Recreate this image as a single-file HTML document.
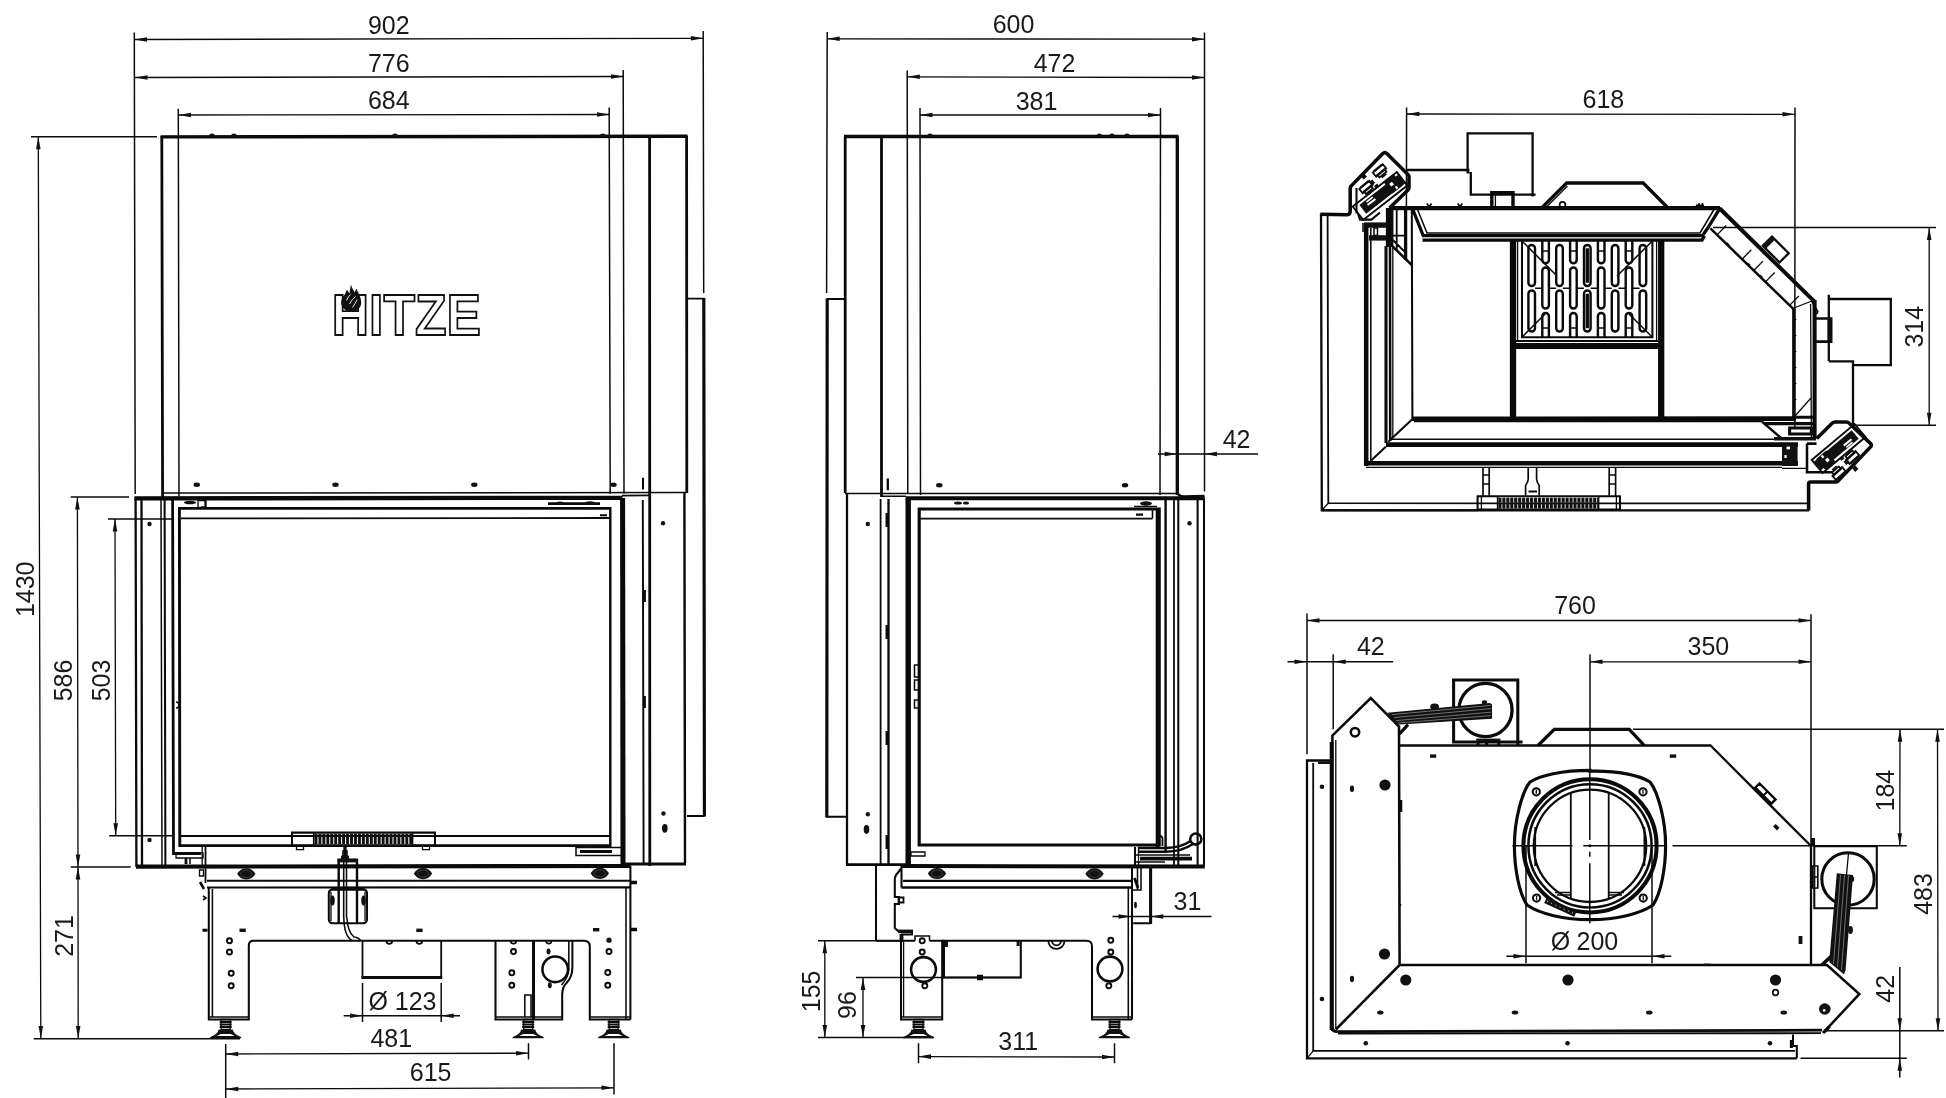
<!DOCTYPE html>
<html lang="en"><head><meta charset="utf-8"><title>HITZE technical drawing</title>
<style>html,body{margin:0;padding:0;background:#fff}body{width:1946px;height:1098px;overflow:hidden}svg{display:block;will-change:transform}text{font-family:"Liberation Sans",sans-serif;fill:#1a1a1a}</style></head><body>
<svg width="1946" height="1098" viewBox="0 0 1946 1098">
<rect width="1946" height="1098" fill="#fff"/>
<g fill="none" stroke="#0a0a0a" stroke-linecap="butt" stroke-linejoin="miter">
<path stroke-width="1.3" d="M134.50 39.50L703.40 38.30M135.00 77.50L623.50 76.50M178.50 115.00L609.50 114.50M38.30 136.80L40.80 1038.50M77.40 497.00L78.00 867.00M78.00 867.00L78.20 1038.50M115.00 519.00L115.70 835.80M225.70 1054.00L528.50 1053.20M225.70 1089.00L614.00 1087.80M205.00 500.00L205.00 507.00L201.00 507.00M198.00 500.50L206.00 500.50L206.00 507.50L198.00 507.50ZM176.00 853.00L203.00 853.00L203.00 858.00L176.00 858.00ZM296.50 845.80L303.50 845.80L303.50 849.60L296.50 849.60ZM422.50 845.80L429.50 845.80L429.50 849.60L422.50 849.60ZM202.20 847.00L202.20 866.00M199.50 870.00L203.50 870.00L203.50 876.00L199.50 876.00ZM331 892V921M365 892V921M221.20 1019.50L230.20 1019.50L230.20 1029.50L221.20 1029.50ZM523.70 1019.50L532.70 1019.50L532.70 1029.50L523.70 1029.50ZM609.20 1019.50L618.20 1019.50L618.20 1029.50L609.20 1029.50ZM827.20 38.80L1204.50 39.20M907.30 76.80L1204.50 77.50M920.00 115.00L1160.50 115.00M824.80 940.80L824.80 1037.50M863.00 977.50L863.00 1037.50M918.50 1056.60L1114.50 1057.00M911.00 852.00L925.00 852.00L925.00 856.00L911.00 856.00ZM1138.50 847.00L1138.50 866.00M903.60 942.00L903.60 1017.00M914.00 1019.50L923.00 1019.50L923.00 1029.50L914.00 1029.50ZM1110.00 1019.50L1119.00 1019.50L1119.00 1029.50L1110.00 1029.50ZM1406.80 114.00L1795.00 114.30M1929.20 227.50L1929.20 425.30M1321.80 510.30L1328.30 503.20M1392.80 208.00L1392.80 438.00M1495.40 194.00L1495.40 207.00M1546.50 207.00L1567.50 186.00M1684.00 207.00L1700.00 206.40M1810.60 304.00L1811.40 437.00M1717.07 234.88L1726.27 225.48M1742.09 259.18L1751.29 249.78M1753.77 270.52L1762.97 261.12M1765.44 281.86L1774.64 272.46M1789.63 305.35L1798.83 295.95M1794.00 308.00L1813.00 300.50M1795.00 416.00L1811.00 398.00M1828.20 320.00L1828.20 340.00M1517.60 241.00L1517.60 342.00M1656.60 241.00L1656.60 342.00M1414.00 421.60L1762.00 421.60M1366.00 467.40L1782.00 467.40M1782.00 468.40L1807.00 468.40M1483.00 475.00L1489.20 475.00M1483.00 484.00L1489.20 484.00M1609.20 475.00L1615.40 475.00M1609.20 484.00L1615.40 484.00M1481.40 497.00L1481.40 509.00M1616.40 497.00L1616.40 509.00M1307.00 620.50L1811.00 620.50M1590.00 661.80L1811.00 661.80M1900.00 729.30L1899.80 845.80M1937.50 729.30L1938.00 1030.80M1307.00 1058.30L1313.20 1050.80M1335.80 740.00L1335.80 1029.00M1399.60 905.00L1401.40 905.00M1536.30 789.80L1536.30 793.80M1643.00 789.80L1643.00 793.80M1536.60 896.00L1536.60 900.00M1643.20 896.00L1643.20 900.00M1557.00 895.00L1570.80 895.00M1608.70 895.00L1622.00 895.00M1812.60 877.00L1817.80 877.00M1848.50 853.00L1846.50 875.00"/>
<path stroke-width="1.49" d="M134.30 32.50L135.20 494.00M703.20 31.00L703.70 293.00M623.20 70.00L624.00 494.00M178.30 108.80L179.00 496.50M609.20 107.50L610.20 494.00M31.00 136.80L157.00 136.80M33.70 1038.70L240.00 1038.70M70.70 497.00L129.00 497.00M70.70 867.00L130.70 867.00M108.00 519.00L172.50 519.00M109.20 835.80L172.50 835.80M225.70 1044.00L225.70 1098.00M528.50 1043.20L528.50 1059.50M614.00 1043.20L614.00 1094.50M362.50 983.00L362.50 1022.00M441.20 983.00L441.20 1022.00M343.70 1015.70L460.00 1015.70M162.50 493.00L686.50 492.60M161.00 500.00L162.00 866.00M827.20 32.00L826.60 293.00M1204.50 32.50L1204.50 491.50M907.20 70.50L907.80 494.00M920.00 108.00L920.50 495.00M1160.50 108.00L1160.00 495.00M1158.00 454.00L1258.00 454.00M1112.50 916.50L1211.50 916.50M818.00 940.80L901.00 940.80M818.00 1037.50L933.50 1037.50M856.00 977.50L1020.80 977.50M918.50 1043.20L918.50 1063.20M1114.50 1043.20L1114.50 1063.20M845.00 493.50L1176.00 493.50M1406.60 107.50L1406.40 208.00M1795.00 107.50L1794.80 427.00M1713.00 227.50L1936.00 227.50M1852.00 425.30L1936.00 425.30M1307.00 613.50L1307.00 754.30M1811.00 614.30L1811.00 846.00M1590.00 654.30L1590.00 770.00M1333.20 654.30L1333.20 729.30M1287.50 661.80L1393.20 661.80M1633.00 729.30L1944.00 729.30M1672.50 845.80L1906.80 845.80M1826.80 1030.80L1944.00 1030.80M1800.50 1058.30L1906.80 1058.30M1899.80 967.00L1899.80 1077.50M1526.00 846.00L1526.00 963.30M1652.00 846.00L1652.00 963.30M1506.30 956.30L1671.30 956.30M1512.50 845.80L1572.50 845.80M1583.30 845.80L1665.80 845.80M1589.80 770.00L1589.80 840.00M1589.80 851.70L1589.80 856.70M1589.80 863.30L1589.80 923.30"/>
<path stroke-width="1.55" d="M176 702A3 3 0 0 1 176 708M190.00 858.00L190.00 864.00M576.00 847.50L622.00 847.50L622.00 855.50L576.00 855.50ZM313.70 832.60L313.70 845.80M412.60 832.60L412.60 845.80M203 896l3 2l-3 2M208.80 1017.00L248.80 1017.00M212.40 889.00L212.40 1017.00M343.00 851.00L347.00 851.00L347.00 856.00L343.00 856.00ZM343.70 862.00L343.70 917.00M346.50 862.00L346.50 917.00M343.8 917Q344 936 352 940.5M346.8 917Q347.5 932 354 937Q358 937 361 940.8M495.50 1017.00L562.20 1017.00M568.8 941V970Q568 978 561.5 985M524.80 995.00L531.00 995.00L531.00 1017.00L524.80 1017.00ZM589.80 1017.00L630.40 1017.00M626.00 887.50L626.00 1019.50M881.00 496.20L906.00 496.20M1152.50 518.50L1152.50 508.00M914.50 665.00L919.00 665.00L919.00 677.00L914.50 677.00ZM914.50 680.00L919.00 680.00L919.00 690.00L914.50 690.00ZM914.50 700.00L919.00 700.00L919.00 708.00L914.50 708.00ZM1134.00 506.50L1157.00 506.50M1135.00 855.00L1190.00 855.00M1135.00 862.00L1165.00 862.00M1128.30 888.00L1128.30 1019.50M1137.50 866.00L1137.50 890.00M1133.00 890.00L1141.00 890.00L1141.00 868.00M901.00 1017.00L942.20 1017.00M915.00 940.80L915.00 936.00L929.50 936.00L929.50 940.80M1092.00 1017.00L1132.00 1017.00M1370.80 228.00L1370.80 461.00M1363.00 223.00L1363.00 232.00M1374.00 228.00L1377.50 228.00L1377.50 235.50L1374.00 235.50ZM1417.5 209.5L1427 233H1700L1714 209.5M1818.00 312.50L1814.80 314.50M1522.00 241.00L1557.00 276.00M1652.40 241.00L1617.00 276.00M1522.00 337.20L1545.00 314.00M1652.40 337.20L1629.00 314.00M1542.30 251.00L1548.90 251.00M1542.30 328.00L1548.90 328.00M1570.10 251.00L1576.70 251.00M1570.10 328.00L1576.70 328.00M1597.90 251.00L1604.50 251.00M1597.90 328.00L1604.50 328.00M1625.70 251.00L1632.30 251.00M1625.70 328.00L1632.30 328.00M1535.00 288.20L1542.30 288.20M1548.90 288.20L1556.20 288.20M1562.80 288.20L1570.10 288.20M1576.70 288.20L1584.00 288.20M1590.60 288.20L1597.90 288.20M1604.50 288.20L1611.80 288.20M1618.40 288.20L1625.70 288.20M1632.30 288.20L1639.60 288.20M1392.00 439.20L1776.00 439.20M1497.60 496.20L1497.60 509.60M1598.60 496.20L1598.60 509.60M1555.00 892.50L1570.80 892.50M1608.70 892.50L1624.00 892.50"/>
<path stroke-width="1.68" d="M386.4 941A2.9 2.9 0 1 0 392.2 941M416.4 941A2.9 2.9 0 1 0 422.2 941M510.8 941A2.7 2.7 0 0 0 516.2 941M546 941A2.7 2.7 0 0 0 551.4 941M1363.86 191.39L1370.75 185.61L1372.94 188.21L1366.05 193.99ZM1377.36 174.89L1384.25 169.11L1386.44 171.71L1379.55 177.49ZM1426.8 203.4L1429.2 206.6L1431.6000000000001 203.4M1457.6 203.4L1460 206.6L1462.4 203.4M1696 205.4h8M1699 203v3.6M1702.4 203v3.6M1845.62 456.45L1852.31 450.43L1854.58 452.95L1847.89 458.97ZM1832.12 472.45L1838.81 466.43L1841.08 468.95L1834.39 474.97ZM1483.00 467.50L1483.00 496.50M1489.20 467.50L1489.20 496.50M1609.20 467.50L1609.20 496.50M1615.60 467.50L1615.60 496.50M1528.2 467.5V479Q1528.2 482 1525.6 485.5V496.5M1536.6 467.5V479Q1536.6 482 1539.2 485.5V496.5M1812.60 866.00L1817.80 866.00L1817.80 888.00L1812.60 888.00Z"/>
<path stroke-width="1.8" d="M622.00 495.60L650.00 495.40M181.00 518.40L610.00 518.00M181.00 836.00L610.00 836.00M205.50 847.00L205.50 883.00M362.50 940.80L362.50 977.50L441.20 977.50L441.20 940.80M219.70 1022.00L231.70 1022.00M219.70 1024.50L231.70 1024.50M219.70 1027.00L231.70 1027.00M522.20 1022.00L534.20 1022.00M522.20 1024.50L534.20 1024.50M522.20 1027.00L534.20 1027.00M607.70 1022.00L619.70 1022.00M607.70 1024.50L619.70 1024.50M607.70 1027.00L619.70 1027.00M880.60 499.00L880.60 864.50M920.00 518.60L1152.50 518.60M1174.00 499.00L1174.00 866.00M1158.5 846V838Q1160.5 834 1162.5 838V846M898.50 897.50L903.50 897.50L903.50 902.50L898.50 902.50ZM1048.3 940.8A8 8 0 0 0 1064.5 940.8M1052 940.8A4.5 4.5 0 0 0 1061 940.8M912.50 1022.00L924.50 1022.00M912.50 1024.50L924.50 1024.50M912.50 1027.00L924.50 1027.00M1108.50 1022.00L1120.50 1022.00M1108.50 1024.50L1120.50 1024.50M1108.50 1027.00L1120.50 1027.00M1327.60 216.00L1328.30 503.20L1807.00 503.40M1359.29 189.11L1369.24 180.75L1372.71 184.89L1362.76 193.25ZM1372.79 172.61L1382.74 164.25L1386.21 168.39L1376.26 176.75ZM1396.70 210.00L1396.70 250.00M1392.80 240.00L1405.00 252.00M1390.00 235.60L1406.00 235.60M1515.00 341.00L1659.00 341.00M1845.86 459.84L1855.52 451.14L1859.14 455.16L1849.48 463.86ZM1832.36 475.84L1842.02 467.14L1845.64 471.16L1835.98 479.86ZM1620.00 503.40L1807.00 503.40M1313.20 763.00L1313.20 1050.80L1795.00 1050.80M1338.00 1033.60L1821.00 1033.20M1570.80 793.00L1570.80 898.50M1608.70 793.00L1608.70 898.50M1535.20 827.00L1535.20 866.00M1644.40 827.00L1644.40 866.00"/>
<path stroke-width="1.93" d="M687.00 298.60L704.60 298.60M687.00 816.00L704.60 816.00M600.00 515.30L607.00 515.30M642.80 500.00L643.60 863.00M846.00 299.00L826.80 299.00M826.00 816.80L846.00 816.80M876.00 940.80L915.00 940.80M929.50 940.80L944.00 940.80M1352.70 206.54L1396.83 172.06L1407.30 185.46L1363.17 219.94ZM1811.69 459.99L1854.59 423.99L1865.51 437.01L1822.61 473.01Z"/>
<path stroke-width="2.05" d="M643.00 477.80L643.00 489.50M164.60 500.00L165.40 866.00M292.00 832.60L435.00 832.60L435.00 845.80L292.00 845.80ZM207.00 880.80L630.50 880.60M207.00 887.50L630.50 887.30M208.80 887.50L208.80 1019.50L248.80 1019.50L248.80 945.00M248.8 945.5Q248.8 940.8 253.5 940.8L362.5 940.8M333 889.6H363Q367 889.6 367 893.6V919Q367 923.2 363 923.2H333Q328.8 923.2 328.8 919V893.6Q328.8 889.6 333 889.6ZM362.50 940.80L495.50 940.80M495.50 940.80L495.50 1019.50L562.20 1019.50L562.20 993.00M495.5 940.8H573.5M572.4 941V967Q572.4 977 566.5 983Q562.2 987 562.2 995M573.5 940.8H584Q589.8 940.8 589.8 946.5V1019.5H630.4M630.40 866.00L630.40 1019.50M1136.00 514.60L1143.00 514.60M1178.30 497.00L1178.30 866.00M1197.60 500.00L1197.60 865.00M1204.00 497.50L1204.00 866.00M1135.00 847.00L1135.00 866.00M901.50 866.00L901.50 887.50M1133.20 923.30L1150.80 923.30M1132.00 866.00L1132.00 1019.50M876.00 864.50L876.00 940.80M901.5 868L896 875L894.8 878V897H899V904H894.8V928L898 931H912V934.5H901M901.00 940.80L901.00 1019.50L942.20 1019.50L942.20 940.80M942.2 940.8H1086.5Q1092 940.8 1092 946.3V1019.5H1132M944.00 940.80L944.00 977.50L1020.80 977.50L1020.80 940.80M978.00 975.80L982.00 975.80L982.00 979.20L978.00 979.20ZM1321.80 510.30L1477.50 510.30M1356.5 188V213.5M1358 214L1360 219.6H1371.5L1380 212.5M1411.80 210.00L1412.40 419.00M1811.50 300.50L1818.00 312.50M1522.00 241.00L1522.00 337.20L1652.40 337.20L1652.40 241.00M1412.50 419.00L1388.30 441.70M1385.80 446.70L1370.80 460.80M1528.50 491.50L1537.00 491.50M1477.60 496.20L1620.00 496.20L1620.00 509.60L1477.60 509.60ZM1793.00 1034.50L1793.00 1046.00L1796.80 1046.00L1796.80 1058.30M1763.20 795.80L1767.60 791.40M1814.30 846.30L1876.80 846.30L1876.80 908.30L1814.30 908.30Z"/>
<path stroke-width="2.3" d="M135.60 497.00L136.40 867.00M141.50 500.00L142.00 866.00M887.80 478.50L887.80 490.30M847.00 494.00L847.00 864.50M888.50 499.00L888.50 864.50M1177.3 492Q1178 496.4 1184 496.4L1204.5 496M903.00 880.80L1132.00 880.80M901.50 887.50L1132.00 887.50M1321.00 213.60L1321.80 510.30L1809.00 510.30M1406.50 170.00L1468.30 170.00L1468.30 173.50M1467.60 173.50L1467.60 133.40L1532.60 133.40L1532.60 196.40M1470.80 172.00L1470.80 194.60L1535.60 194.60M1772.00 236.56L1788.69 253.25L1779.50 262.44L1762.81 245.75ZM1828.80 294.80L1828.80 361.00M1828.80 299.00L1890.80 299.00L1890.80 365.20L1853.00 365.20M1828.80 361.40L1853.00 361.40L1853.00 425.30M1332.00 760.50L1307.00 760.50L1307.00 1058.30L1796.80 1058.30M1399.60 745.50L1710.50 745.50L1811.00 846.00M1811.00 846.00L1811.00 965.00"/>
<path stroke-width="2.42" d="M610.30 507.00L610.30 847.40M684.40 493.00L685.00 863.00M338.70 923.00L338.70 860.00L357.00 860.00L357.00 923.00M1165.60 500.00L1165.60 852.00M1190.6 841Q1181 847.6 1166 848L1138 848M1193 844Q1182 851.4 1166 851.8L1138 851.8M1528.40 248.30A3.3 3.3 0 0 1 1535.00 248.30V282.70A3.3 3.3 0 0 1 1528.40 282.70ZM1528.40 293.80A3.3 3.3 0 0 1 1535.00 293.80V328.20A3.3 3.3 0 0 1 1528.40 328.20ZM1542.30 241V260A3.3 3.3 0 0 0 1548.90 260V241M1542.30 270.80A3.3 3.3 0 0 1 1548.90 270.80V305.20A3.3 3.3 0 0 1 1542.30 305.20ZM1542.30 337V316.3A3.3 3.3 0 0 1 1548.90 316.3V337M1556.20 248.30A3.3 3.3 0 0 1 1562.80 248.30V282.70A3.3 3.3 0 0 1 1556.20 282.70ZM1556.20 293.80A3.3 3.3 0 0 1 1562.80 293.80V328.20A3.3 3.3 0 0 1 1556.20 328.20ZM1570.10 241V260A3.3 3.3 0 0 0 1576.70 260V241M1570.10 270.80A3.3 3.3 0 0 1 1576.70 270.80V305.20A3.3 3.3 0 0 1 1570.10 305.20ZM1570.10 337V316.3A3.3 3.3 0 0 1 1576.70 316.3V337M1584.00 248.30A3.3 3.3 0 0 1 1590.60 248.30V282.70A3.3 3.3 0 0 1 1584.00 282.70ZM1584.00 293.80A3.3 3.3 0 0 1 1590.60 293.80V328.20A3.3 3.3 0 0 1 1584.00 328.20ZM1597.90 241V260A3.3 3.3 0 0 0 1604.50 260V241M1597.90 270.80A3.3 3.3 0 0 1 1604.50 270.80V305.20A3.3 3.3 0 0 1 1597.90 305.20ZM1597.90 337V316.3A3.3 3.3 0 0 1 1604.50 316.3V337M1611.80 248.30A3.3 3.3 0 0 1 1618.40 248.30V282.70A3.3 3.3 0 0 1 1611.80 282.70ZM1611.80 293.80A3.3 3.3 0 0 1 1618.40 293.80V328.20A3.3 3.3 0 0 1 1611.80 328.20ZM1625.70 241V260A3.3 3.3 0 0 0 1632.30 260V241M1625.70 270.80A3.3 3.3 0 0 1 1632.30 270.80V305.20A3.3 3.3 0 0 1 1625.70 305.20ZM1625.70 337V316.3A3.3 3.3 0 0 1 1632.30 316.3V337M1639.60 248.30A3.3 3.3 0 0 1 1646.20 248.30V282.70A3.3 3.3 0 0 1 1639.60 282.70ZM1639.60 293.80A3.3 3.3 0 0 1 1646.20 293.80V328.20A3.3 3.3 0 0 1 1639.60 328.20ZM1759.53 783.49L1775.51 799.47L1771.27 803.71L1755.29 787.73Z"/>
<path stroke-width="2.55" d="M644.60 590.00L644.60 602.00M644.60 696.00L644.60 708.00M548.00 503.60L600.00 503.60M200.00 882.00L204.00 889.00M1390.00 246.00L1390.20 441.00M1392.80 246.70L1411.80 265.00M1710.40 228.40L1793.80 309.40M1816.00 318.40L1831.20 318.40L1831.20 341.60L1816.00 341.60M1762.00 421.60L1781.00 438.00M1807 443.6H1816.5M1807 443.6V472.2H1832M1332.40 1031.00L1332.40 735.60L1370.80 698.00L1399.00 726.60L1399.60 965.00M1335.80 1029.50L1399.60 965.00M1399.60 965.00L1827.00 965.00L1859.30 994.00L1823.00 1033.00M1401.00 800.00L1401.00 812.00"/>
<path stroke-width="2.8" d="M161.80 136.00L162.60 497.00M649.60 136.00L649.80 866.00M686.60 136.00L686.80 493.00M172.60 500.00L173.50 853.50L201.00 853.50M624.00 864.00L686.00 864.00M186.00 858.00L186.00 864.00M580.00 851.50L612.00 851.50M845.20 136.50L845.20 493.00M881.50 136.50L881.50 497.00M846.00 864.60L907.00 864.60M1134.50 878.00L1138.00 888.00M1332 1027Q1332.5 1031.6 1337 1031.6L1822 1030.2"/>
<path stroke-width="2.92" d="M610.30 845.60L179.80 845.60L179.40 508.40L610.30 508.40"/>
<path stroke-width="3.05" d="M202.50 930.20L207.50 930.20M361.50 977.50L442.20 977.50M533.50 940.80L533.50 1019.50M1150.60 866.00L1150.60 924.00M1386.00 246.00L1386.00 443.00M1796.00 417.20L1814.00 417.20M1789.60 428.00L1811.40 428.00L1811.40 434.00L1789.60 434.00ZM1791.40 1040.00L1791.40 1048.00M1455.40 741.90L1453.60 741.90L1453.60 680.00L1517.80 680.00L1517.80 745.00M1455.00 742.00L1522.60 742.00M1478.00 741.00L1478.00 745.50M1486.60 741.00L1486.60 745.50M1498.80 741.00L1498.80 745.50"/>
<path stroke-width="3.17" d="M703.80 298.00L704.40 816.50M827.20 298.40L826.80 817.40M919.20 509.00L1159.20 509.00L1159.20 845.00L919.20 845.00ZM1590 771.2C1618 770.4 1640 775.5 1650 782C1658 792 1665.6 820 1665.6 845.8C1665.6 868 1661 893 1653 905C1640 914 1616 919.6 1590 919.6C1564 919.6 1540 914 1527 905C1519 893 1514.4 868 1514.4 845.8C1514.4 820 1522 792 1530 782C1540 775.5 1562 770.4 1590 770.4Z"/>
<path stroke-width="3.3" d="M345.00 846.00L345.00 859.00M631.00 882.50L637.00 882.50M631.00 929.50L637.00 929.50M844.00 136.50L1178.50 136.50M1177.30 136.50L1177.30 495.00M887.20 513.00L887.20 527.00M887.20 625.00L887.20 639.00M887.20 731.00L887.20 745.00M887.20 835.00L887.20 849.00M1405.60 209.00L1405.60 260.00M1541.60 208.00L1566.60 183.00L1643.20 183.00L1668.00 208.00M1412.8 209.5L1423.2 235.6H1702.5L1707.6 228.3L1719.6 208.8M1422.5 240.2H1702L1704.5 236M1793.80 308.50L1793.80 418.50M1587.30 248.30L1587.30 282.70M1587.30 293.80L1587.30 328.20M1764.00 423.60L1813.00 423.60M1823.50 1032.60L1829.50 1026.50M1538.00 745.50L1554.30 729.30L1629.30 729.30L1644.30 745.50M1399.40 734.00L1408.00 724.60"/>
<path stroke-width="3.42" d="M160.60 136.90L687.60 136.20M1491.80 207.00L1491.80 192.60L1513.00 192.60L1513.00 207.00"/>
<path stroke-width="3.55" d="M1320.5 214.2L1346.8 214.8Q1350 214.8 1350.2 211.5L1350.2 188.5L1350.6 186.6L1382.8 153.6Q1384.8 151.6 1386.8 153.6L1408 174.4Q1409 175.4 1409 177V187.6Q1409 189 1408 190L1389.5 208M1816.8 438.6L1832.4 423Q1833.4 422 1835 422H1846.4Q1848 422 1849 423L1870.6 443.6Q1872 445 1870.8 446.6L1838 481Q1837 482 1835.6 482H1810.4Q1808.6 482 1808.6 483.8V510.6M1821.80 965.00L1831.80 955.80"/>
<path stroke-width="3.8" d="M1157.60 508.00L1157.60 847.00M1140.00 858.60L1192.00 858.60M901.50 934.00L901.50 942.00M1331.60 742.00L1331.60 1030.00"/>
<path stroke-width="4.05" d="M136.00 866.60L630.50 866.00M905.60 498.20L1204.60 498.20M901.00 866.00L1204.80 866.40M1719.50 208.30L1814.50 301.60M1814.60 300.00L1814.60 439.00M1813.00 838.00L1813.00 846.30"/>
<path stroke-width="4.3" d="M134.50 498.40L622.50 497.80M1389.00 208.20L1720.00 208.20"/>
<path stroke-width="4.42" d="M1364.40 463.20L1798.00 463.20"/>
<path stroke-width="4.55" d="M1366.20 224.00L1366.20 466.00M1412.00 418.80L1796.00 418.60"/>
<path stroke-width="4.8" d="M1386.00 444.60L1798.00 444.60"/>
<path stroke-width="5.05" d="M622.60 498.00L623.00 864.00"/>
<path stroke-width="5.42" d="M908.20 499.00L908.20 866.00"/>
<path stroke-width="5.8" d="M1512.00 346.00L1662.00 346.00"/>
<path stroke-width="6.3" d="M1513.00 240.00L1513.00 418.00M1661.20 240.00L1661.20 418.00"/>
<path stroke-width="7.05" d="M1389.40 208.00L1389.40 247.00"/>
</g>
<polygon points="134.50,39.50 147.00,37.20 147.00,41.80" fill="#111"/>
<polygon points="703.40,38.30 690.90,36.00 690.90,40.60" fill="#111"/>
<polygon points="135.00,77.50 147.50,75.20 147.50,79.80" fill="#111"/>
<polygon points="623.50,76.50 611.00,74.20 611.00,78.80" fill="#111"/>
<polygon points="178.50,115.00 191.00,112.70 191.00,117.30" fill="#111"/>
<polygon points="609.50,114.50 597.00,112.20 597.00,116.80" fill="#111"/>
<polygon points="38.30,136.80 36.00,149.30 40.60,149.30" fill="#111"/>
<polygon points="40.80,1038.50 38.50,1026.00 43.10,1026.00" fill="#111"/>
<polygon points="77.40,497.00 75.10,509.50 79.70,509.50" fill="#111"/>
<polygon points="78.00,867.00 75.70,854.50 80.30,854.50" fill="#111"/>
<polygon points="78.00,867.00 75.70,879.50 80.30,879.50" fill="#111"/>
<polygon points="78.20,1038.50 75.90,1026.00 80.50,1026.00" fill="#111"/>
<polygon points="115.00,519.00 112.70,531.50 117.30,531.50" fill="#111"/>
<polygon points="115.70,835.80 113.40,823.30 118.00,823.30" fill="#111"/>
<polygon points="225.70,1054.00 238.20,1051.70 238.20,1056.30" fill="#111"/>
<polygon points="528.50,1053.20 516.00,1050.90 516.00,1055.50" fill="#111"/>
<polygon points="225.70,1089.00 238.20,1086.70 238.20,1091.30" fill="#111"/>
<polygon points="614.00,1087.80 601.50,1085.50 601.50,1090.10" fill="#111"/>
<polygon points="362.50,1015.70 350.00,1013.40 350.00,1018.00" fill="#111"/>
<polygon points="441.20,1015.70 453.70,1013.40 453.70,1018.00" fill="#111"/>
<ellipse cx="212.00" cy="135.20" rx="2.80" ry="1.80" fill="#111"/>
<ellipse cx="234.00" cy="135.20" rx="2.80" ry="1.80" fill="#111"/>
<ellipse cx="395.00" cy="135.20" rx="2.80" ry="1.80" fill="#111"/>
<ellipse cx="603.00" cy="135.20" rx="2.80" ry="1.80" fill="#111"/>
<ellipse cx="196.80" cy="484.80" rx="3.20" ry="2.20" fill="#111"/>
<ellipse cx="335.50" cy="484.80" rx="3.20" ry="2.20" fill="#111"/>
<ellipse cx="474.30" cy="484.80" rx="3.20" ry="2.20" fill="#111"/>
<ellipse cx="613.50" cy="484.80" rx="3.20" ry="2.20" fill="#111"/>
<ellipse cx="190.00" cy="502.50" rx="6.00" ry="1.80" fill="#111"/>
<ellipse cx="560.00" cy="503.00" rx="4.00" ry="1.60" fill="#111"/>
<ellipse cx="590.00" cy="503.00" rx="5.00" ry="1.80" fill="#111"/>
<circle cx="149.50" cy="524.00" r="2.20" fill="#111"/>
<circle cx="149.50" cy="840.00" r="2.20" fill="#111"/>
<circle cx="663.00" cy="523.30" r="2.20" fill="#111"/>
<circle cx="663.50" cy="813.50" r="2.20" fill="#111"/>
<ellipse cx="664.80" cy="828.30" rx="2.80" ry="4.40" fill="#111"/>
<ellipse cx="588.00" cy="846.50" rx="6.00" ry="1.60" fill="#111"/>
<path d="M314.5 839H412" stroke="#111" stroke-width="10" stroke-dasharray="2.95 1.0" fill="none"/>
<path d="M237.10 873.80Q240.30 868.20 246.30 868.20Q252.30 868.20 255.50 873.80Q252.30 879.40 246.30 879.40Q240.30 879.40 237.10 873.80Z" fill="#111" />
<ellipse cx="246.30" cy="873.80" rx="5.6" ry="3.6" fill="none" stroke="#555" stroke-width="0.6"/>
<path d="M413.80 873.60Q417.00 868.00 423.00 868.00Q429.00 868.00 432.20 873.60Q429.00 879.20 423.00 879.20Q417.00 879.20 413.80 873.60Z" fill="#111" />
<ellipse cx="423.00" cy="873.60" rx="5.6" ry="3.6" fill="none" stroke="#555" stroke-width="0.6"/>
<path d="M590.60 873.30Q593.80 867.70 599.80 867.70Q605.80 867.70 609.00 873.30Q605.80 878.90 599.80 878.90Q593.80 878.90 590.60 873.30Z" fill="#111" />
<ellipse cx="599.80" cy="873.30" rx="5.6" ry="3.6" fill="none" stroke="#555" stroke-width="0.6"/>
<circle cx="229.50" cy="940.80" r="2.50" fill="none" stroke="#0a0a0a" stroke-width="1.93"/>
<circle cx="229.50" cy="952.00" r="2.50" fill="none" stroke="#0a0a0a" stroke-width="1.93"/>
<circle cx="231.20" cy="973.30" r="2.50" fill="none" stroke="#0a0a0a" stroke-width="1.93"/>
<circle cx="231.20" cy="985.80" r="2.50" fill="none" stroke="#0a0a0a" stroke-width="1.93"/>
<polygon points="239.50,928.60 245.80,928.60 245.80,932.00 239.50,932.00" fill="#111"/>
<polygon points="416.30,928.60 422.60,928.60 422.60,932.00 416.30,932.00" fill="#111"/>
<polygon points="593.00,928.00 599.30,928.00 599.30,931.40 593.00,931.40" fill="#111"/>
<polygon points="337.60,858.60 358.00,858.60 358.00,862.40 337.60,862.40" fill="#111"/>
<polygon points="341.00,855.60 349.00,855.60 349.00,859.00 341.00,859.00" fill="#111"/>
<ellipse cx="332.50" cy="900.50" rx="2.20" ry="5.00" fill="#111"/>
<ellipse cx="363.50" cy="900.50" rx="2.20" ry="5.00" fill="#111"/>
<circle cx="555.20" cy="969.30" r="12.80" fill="none" stroke="#0a0a0a" stroke-width="2.55"/>
<circle cx="513.50" cy="951.50" r="2.50" fill="none" stroke="#0a0a0a" stroke-width="1.93"/>
<circle cx="511.80" cy="972.80" r="2.50" fill="none" stroke="#0a0a0a" stroke-width="1.93"/>
<circle cx="511.80" cy="985.30" r="2.50" fill="none" stroke="#0a0a0a" stroke-width="1.93"/>
<ellipse cx="548.50" cy="951.50" rx="2.00" ry="3.00" fill="#111"/>
<ellipse cx="549.80" cy="985.30" rx="2.00" ry="3.00" fill="#111"/>
<circle cx="609.00" cy="940.20" r="2.60" fill="#111"/>
<circle cx="609.00" cy="951.50" r="2.50" fill="none" stroke="#0a0a0a" stroke-width="1.93"/>
<circle cx="607.80" cy="972.50" r="2.50" fill="none" stroke="#0a0a0a" stroke-width="1.93"/>
<circle cx="607.80" cy="985.30" r="2.50" fill="none" stroke="#0a0a0a" stroke-width="1.93"/>
<path d="M218.70 1029.50L232.70 1029.50Q233.70 1034.50 241.20 1037.00L241.20 1038.20L210.20 1038.20L210.20 1037.00Q217.70 1034.50 218.70 1029.50Z" fill="#111" />
<path d="M220.70 1034.00L230.70 1034.00L234.70 1036.00L216.70 1036.00Z" fill="#fff" />
<path d="M521.20 1029.50L535.20 1029.50Q536.20 1034.50 543.70 1037.00L543.70 1038.20L512.70 1038.20L512.70 1037.00Q520.20 1034.50 521.20 1029.50Z" fill="#111" />
<path d="M523.20 1034.00L533.20 1034.00L537.20 1036.00L519.20 1036.00Z" fill="#fff" />
<path d="M606.70 1029.50L620.70 1029.50Q621.70 1034.50 629.20 1037.00L629.20 1038.20L598.20 1038.20L598.20 1037.00Q605.70 1034.50 606.70 1029.50Z" fill="#111" />
<path d="M608.70 1034.00L618.70 1034.00L622.70 1036.00L604.70 1036.00Z" fill="#fff" />
<polygon points="827.20,38.80 839.70,36.50 839.70,41.10" fill="#111"/>
<polygon points="1204.50,39.20 1192.00,36.90 1192.00,41.50" fill="#111"/>
<polygon points="907.30,76.80 919.80,74.50 919.80,79.10" fill="#111"/>
<polygon points="1204.50,77.50 1192.00,75.20 1192.00,79.80" fill="#111"/>
<polygon points="920.00,115.00 932.50,112.70 932.50,117.30" fill="#111"/>
<polygon points="1160.50,115.00 1148.00,112.70 1148.00,117.30" fill="#111"/>
<polygon points="1177.20,454.00 1164.70,451.70 1164.70,456.30" fill="#111"/>
<polygon points="1204.50,454.00 1217.00,451.70 1217.00,456.30" fill="#111"/>
<polygon points="1131.00,916.50 1118.50,914.20 1118.50,918.80" fill="#111"/>
<polygon points="1150.80,916.50 1163.30,914.20 1163.30,918.80" fill="#111"/>
<polygon points="824.80,940.80 822.50,953.30 827.10,953.30" fill="#111"/>
<polygon points="824.80,1037.50 822.50,1025.00 827.10,1025.00" fill="#111"/>
<polygon points="863.00,977.50 860.70,990.00 865.30,990.00" fill="#111"/>
<polygon points="863.00,1037.50 860.70,1025.00 865.30,1025.00" fill="#111"/>
<polygon points="918.50,1056.60 931.00,1054.30 931.00,1058.90" fill="#111"/>
<polygon points="1114.50,1057.00 1102.00,1054.70 1102.00,1059.30" fill="#111"/>
<ellipse cx="930.00" cy="135.20" rx="2.60" ry="1.60" fill="#111"/>
<ellipse cx="1099.50" cy="135.20" rx="2.60" ry="1.60" fill="#111"/>
<ellipse cx="1112.00" cy="135.20" rx="2.60" ry="1.60" fill="#111"/>
<ellipse cx="1127.00" cy="135.20" rx="2.60" ry="1.60" fill="#111"/>
<ellipse cx="939.30" cy="485.30" rx="3.20" ry="2.20" fill="#111"/>
<ellipse cx="1125.00" cy="485.30" rx="3.20" ry="2.20" fill="#111"/>
<circle cx="867.80" cy="524.00" r="2.20" fill="#111"/>
<circle cx="867.80" cy="814.30" r="2.20" fill="#111"/>
<ellipse cx="866.50" cy="829.50" rx="2.80" ry="4.40" fill="#111"/>
<ellipse cx="958.00" cy="503.00" rx="4.00" ry="1.60" fill="#111"/>
<ellipse cx="966.00" cy="503.00" rx="3.00" ry="1.60" fill="#111"/>
<ellipse cx="1146.00" cy="503.50" rx="6.00" ry="2.20" fill="#111"/>
<circle cx="1189.50" cy="523.30" r="2.20" fill="#111"/>
<circle cx="1195.80" cy="839.00" r="5.60" fill="none" stroke="#0a0a0a" stroke-width="2.55"/>
<path d="M927.80 873.50Q931.00 867.90 937.00 867.90Q943.00 867.90 946.20 873.50Q943.00 879.10 937.00 879.10Q931.00 879.10 927.80 873.50Z" fill="#111" />
<ellipse cx="937.00" cy="873.50" rx="5.6" ry="3.6" fill="none" stroke="#555" stroke-width="0.6"/>
<path d="M1085.30 873.80Q1088.50 868.20 1094.50 868.20Q1100.50 868.20 1103.70 873.80Q1100.50 879.40 1094.50 879.40Q1088.50 879.40 1085.30 873.80Z" fill="#111" />
<ellipse cx="1094.50" cy="873.80" rx="5.6" ry="3.6" fill="none" stroke="#555" stroke-width="0.6"/>
<ellipse cx="1135.50" cy="905.00" rx="1.40" ry="3.20" fill="#111"/>
<polygon points="898.00,929.60 913.00,929.60 913.00,933.20 898.00,933.20" fill="#111"/>
<circle cx="922.20" cy="940.80" r="2.50" fill="none" stroke="#0a0a0a" stroke-width="1.93"/>
<circle cx="922.20" cy="952.00" r="2.50" fill="none" stroke="#0a0a0a" stroke-width="1.93"/>
<circle cx="923.50" cy="969.50" r="12.40" fill="none" stroke="#0a0a0a" stroke-width="2.55"/>
<circle cx="924.80" cy="985.80" r="2.50" fill="none" stroke="#0a0a0a" stroke-width="1.93"/>
<polygon points="945.00,941.00 948.00,941.00 948.00,947.00 945.00,947.00" fill="#111"/>
<polygon points="1016.60,941.00 1019.60,941.00 1019.60,946.00 1016.60,946.00" fill="#111"/>
<circle cx="1110.80" cy="940.30" r="2.50" fill="none" stroke="#0a0a0a" stroke-width="1.93"/>
<circle cx="1110.80" cy="952.00" r="2.50" fill="none" stroke="#0a0a0a" stroke-width="1.93"/>
<circle cx="1110.00" cy="969.00" r="12.40" fill="none" stroke="#0a0a0a" stroke-width="2.55"/>
<circle cx="1108.80" cy="985.80" r="2.50" fill="none" stroke="#0a0a0a" stroke-width="1.93"/>
<path d="M911.50 1029.50L925.50 1029.50Q926.50 1034.50 934.00 1037.00L934.00 1038.20L903.00 1038.20L903.00 1037.00Q910.50 1034.50 911.50 1029.50Z" fill="#111" />
<path d="M913.50 1034.00L923.50 1034.00L927.50 1036.00L909.50 1036.00Z" fill="#fff" />
<path d="M1107.50 1029.50L1121.50 1029.50Q1122.50 1034.50 1130.00 1037.00L1130.00 1038.20L1099.00 1038.20L1099.00 1037.00Q1106.50 1034.50 1107.50 1029.50Z" fill="#111" />
<path d="M1109.50 1034.00L1119.50 1034.00L1123.50 1036.00L1105.50 1036.00Z" fill="#fff" />
<polygon points="1406.80,114.00 1419.30,111.70 1419.30,116.30" fill="#111"/>
<polygon points="1795.00,114.30 1782.50,112.00 1782.50,116.60" fill="#111"/>
<polygon points="1929.20,227.50 1926.90,240.00 1931.50,240.00" fill="#111"/>
<polygon points="1929.20,425.30 1926.90,412.80 1931.50,412.80" fill="#111"/>
<polygon points="1359.41,205.06 1398.81,174.27 1405.59,182.94 1366.19,213.73" fill="#111"/>
<polygon points="1383.26,181.69 1393.50,173.69 1402.74,185.51 1392.50,193.51" fill="#111"/>
<polygon points="1389.21,183.91 1391.89,181.81 1393.99,184.49 1391.31,186.59" fill="#fff"/>
<polygon points="1394.81,187.10 1396.54,185.74 1398.39,188.10 1396.66,189.46" fill="#fff"/>
<polygon points="1366.94,204.29 1374.82,198.13 1376.06,199.71 1368.18,205.87" fill="#fff"/>
<polygon points="1365.96,201.43 1372.26,196.51 1373.24,197.77 1366.94,202.69" fill="#fff"/>
<polygon points="1359.28,187.29 1367.71,180.22 1369.12,181.91 1360.69,188.98" fill="#111"/>
<polygon points="1367.46,193.36 1372.06,189.51 1373.34,191.04 1368.74,194.89" fill="#111"/>
<polygon points="1372.78,170.79 1381.21,163.72 1382.62,165.41 1374.19,172.48" fill="#111"/>
<polygon points="1380.96,176.86 1385.56,173.01 1386.84,174.54 1382.24,178.39" fill="#111"/>
<polygon points="1360.08,175.35 1363.45,172.52 1366.92,176.65 1363.55,179.48" fill="#111"/>
<polygon points="1368.90,182.33 1372.27,179.50 1375.10,182.87 1371.73,185.70" fill="#111"/>
<polygon points="1374.00,186.14 1377.07,183.57 1379.00,185.86 1375.93,188.43" fill="#111"/>
<polygon points="1364.00,222.40 1387.00,222.40 1387.00,227.80 1364.00,227.80" fill="#111"/>
<polygon points="1369.00,235.20 1388.00,235.20 1388.00,240.60 1369.00,240.60" fill="#111"/>
<circle cx="1562.50" cy="204.80" r="2.90" fill="none" stroke="#0a0a0a" stroke-width="1.80"/>
<polygon points="1727.21,242.24 1729.66,244.61 1728.55,245.76 1726.10,243.39" fill="#111"/>
<polygon points="1748.06,262.49 1750.51,264.86 1749.40,266.01 1746.95,263.64" fill="#111"/>
<polygon points="1760.57,274.64 1763.02,277.01 1761.91,278.16 1759.46,275.79" fill="#111"/>
<polygon points="1794.60,318.00 1796.80,319.40 1794.60,320.80" fill="#111"/>
<polygon points="1794.60,334.00 1796.80,335.40 1794.60,336.80" fill="#111"/>
<polygon points="1794.60,350.00 1796.80,351.40 1794.60,352.80" fill="#111"/>
<polygon points="1794.60,366.00 1796.80,367.40 1794.60,368.80" fill="#111"/>
<polygon points="1794.60,382.00 1796.80,383.40 1794.60,384.80" fill="#111"/>
<polygon points="1794.60,398.00 1796.80,399.40 1794.60,400.80" fill="#111"/>
<polygon points="1772.15,236.48 1775.12,239.45 1765.65,248.92 1762.68,245.95" fill="#111"/>
<polygon points="1782.00,444.00 1797.60,444.00 1797.60,466.00 1782.00,466.00" fill="#111"/>
<polygon points="1786.50,446.60 1790.00,446.60 1790.00,449.40 1786.50,449.40" fill="#fff"/>
<polygon points="1784.40,455.00 1786.60,455.00 1786.60,458.00 1784.40,458.00" fill="#fff"/>
<polygon points="1774.00,437.00 1816.00,437.00 1816.00,440.60 1774.00,440.60" fill="#111"/>
<polygon points="1813.31,462.36 1851.62,430.22 1858.69,438.64 1820.38,470.78" fill="#111"/>
<polygon points="1816.20,458.93 1826.16,450.58 1835.80,462.07 1825.84,470.42" fill="#111"/>
<polygon points="1825.00,459.79 1827.61,457.60 1829.80,460.21 1827.19,462.40" fill="#fff"/>
<polygon points="1820.79,456.16 1822.48,454.74 1824.41,457.04 1822.72,458.46" fill="#fff"/>
<polygon points="1843.13,444.85 1850.79,438.42 1852.07,439.95 1844.41,446.38" fill="#fff"/>
<polygon points="1845.82,446.76 1851.95,441.62 1852.98,442.84 1846.85,447.98" fill="#fff"/>
<polygon points="1849.48,462.76 1857.65,455.40 1859.12,457.04 1850.95,464.40" fill="#111"/>
<polygon points="1845.20,453.56 1849.66,449.55 1851.00,451.04 1846.54,455.05" fill="#111"/>
<polygon points="1835.98,478.76 1844.15,471.40 1845.62,473.04 1837.45,480.40" fill="#111"/>
<polygon points="1831.70,469.56 1836.16,465.55 1837.50,467.04 1833.04,471.05" fill="#111"/>
<polygon points="1851.56,467.87 1854.83,464.92 1858.44,468.93 1855.17,471.88" fill="#111"/>
<polygon points="1843.49,461.64 1846.76,458.69 1849.71,461.96 1846.44,464.91" fill="#111"/>
<polygon points="1839.51,458.62 1842.48,455.95 1844.49,458.18 1841.52,460.85" fill="#111"/>
<path d="M1498.4 500.2H1598" stroke="#111" stroke-width="5" stroke-dasharray="3.1 0.85" fill="none"/>
<path d="M1498.4 506H1598" stroke="#111" stroke-width="5" stroke-dasharray="3.1 0.85" fill="none"/>
<polygon points="1307.00,620.50 1319.50,618.20 1319.50,622.80" fill="#111"/>
<polygon points="1811.00,620.50 1798.50,618.20 1798.50,622.80" fill="#111"/>
<polygon points="1590.00,661.80 1602.50,659.50 1602.50,664.10" fill="#111"/>
<polygon points="1811.00,661.80 1798.50,659.50 1798.50,664.10" fill="#111"/>
<polygon points="1307.00,661.80 1294.50,659.50 1294.50,664.10" fill="#111"/>
<polygon points="1333.20,661.80 1345.70,659.50 1345.70,664.10" fill="#111"/>
<polygon points="1900.00,729.30 1897.70,741.80 1902.30,741.80" fill="#111"/>
<polygon points="1899.80,845.80 1897.50,833.30 1902.10,833.30" fill="#111"/>
<polygon points="1937.50,729.30 1935.20,741.80 1939.80,741.80" fill="#111"/>
<polygon points="1938.00,1030.80 1935.70,1018.30 1940.30,1018.30" fill="#111"/>
<polygon points="1899.80,1030.80 1897.50,1018.30 1902.10,1018.30" fill="#111"/>
<polygon points="1899.80,1058.30 1897.50,1070.80 1902.10,1070.80" fill="#111"/>
<polygon points="1526.00,956.30 1513.50,954.00 1513.50,958.60" fill="#111"/>
<polygon points="1652.00,956.30 1664.50,954.00 1664.50,958.60" fill="#111"/>
<polygon points="1318.00,761.40 1330.00,761.40 1330.00,764.00 1318.00,764.00" fill="#111"/>
<polygon points="1430.00,754.40 1436.20,754.40 1436.20,757.80 1430.00,757.80" fill="#111"/>
<polygon points="1669.80,754.40 1676.20,754.40 1676.20,757.80 1669.80,757.80" fill="#111"/>
<polygon points="1775.63,823.98 1779.52,827.87 1776.97,830.42 1773.08,826.53" fill="#111"/>
<polygon points="1798.60,936.00 1802.40,936.00 1802.40,944.00 1798.60,944.00" fill="#111"/>
<circle cx="1485.50" cy="710.00" r="26.60" fill="none" stroke="#0a0a0a" stroke-width="3.30"/>
<polygon points="1476.20,738.60 1500.40,738.60 1500.40,741.00 1476.20,741.00" fill="#111"/>
<polygon points="1387.40,712.70 1490.00,703.00 1492.00,704.50 1492.00,718.70 1395.70,724.80" fill="#111"/>
<path d="M1392 714.6L1490.5 705.4M1394 717.6L1491 708.6M1396 720.6L1491 712.2M1398 723L1491 715.6" stroke="#999" stroke-width="0.7" fill="none"/>
<ellipse cx="1434.60" cy="706.60" rx="4.40" ry="3.20" fill="#111"/>
<ellipse cx="1484.50" cy="702.60" rx="2.60" ry="2.40" fill="#111"/>
<circle cx="1355.00" cy="732.20" r="4.20" fill="none" stroke="#0a0a0a" stroke-width="2.55"/>
<circle cx="1385.00" cy="785.00" r="5.60" fill="#111"/>
<circle cx="1384.50" cy="954.00" r="5.60" fill="#111"/>
<circle cx="1405.80" cy="980.00" r="5.60" fill="#111"/>
<circle cx="1322.00" cy="786.80" r="2.30" fill="#111"/>
<circle cx="1322.00" cy="999.00" r="2.30" fill="#111"/>
<ellipse cx="1352.00" cy="788.80" rx="2.10" ry="3.20" fill="#111"/>
<ellipse cx="1352.00" cy="979.00" rx="2.10" ry="3.20" fill="#111"/>
<ellipse cx="1380.30" cy="1012.50" rx="3.20" ry="2.10" fill="#111"/>
<circle cx="1365.80" cy="1043.30" r="2.30" fill="#111"/>
<circle cx="1567.50" cy="1043.30" r="2.30" fill="#111"/>
<circle cx="1770.00" cy="1043.30" r="2.30" fill="#111"/>
<ellipse cx="1515.00" cy="1012.50" rx="3.30" ry="2.10" fill="#111"/>
<ellipse cx="1649.30" cy="1012.50" rx="3.30" ry="2.10" fill="#111"/>
<ellipse cx="1783.80" cy="1012.50" rx="3.30" ry="2.10" fill="#111"/>
<circle cx="1568.00" cy="980.00" r="5.60" fill="#111"/>
<circle cx="1775.50" cy="980.00" r="5.60" fill="#111"/>
<circle cx="1775.50" cy="992.50" r="2.80" fill="none" stroke="#0a0a0a" stroke-width="1.68"/>
<circle cx="1824.80" cy="1009.00" r="5.80" fill="#111"/>
<circle cx="1824.20" cy="1010.40" r="1.30" fill="#fff"/>
<polygon points="1704.00,963.60 1710.00,963.60 1710.00,965.00 1704.00,965.00" fill="#111"/>
<circle cx="1590.00" cy="845.80" r="66.60" fill="none" stroke="#0a0a0a" stroke-width="4.05"/>
<circle cx="1590.00" cy="845.80" r="61.60" fill="none" stroke="#0a0a0a" stroke-width="2.55"/>
<circle cx="1590.00" cy="845.80" r="56.20" fill="none" stroke="#0a0a0a" stroke-width="2.30"/>
<circle cx="1536.30" cy="791.80" r="3.60" fill="none" stroke="#0a0a0a" stroke-width="2.05"/>
<circle cx="1643.00" cy="791.80" r="3.60" fill="none" stroke="#0a0a0a" stroke-width="2.05"/>
<circle cx="1536.60" cy="898.00" r="3.60" fill="none" stroke="#0a0a0a" stroke-width="2.05"/>
<circle cx="1643.20" cy="898.00" r="3.60" fill="none" stroke="#0a0a0a" stroke-width="2.05"/>
<circle cx="1590.00" cy="845.80" r="1.50" fill="#111"/>
<polygon points="1546.63,897.63 1576.66,911.31 1574.17,916.77 1544.14,903.09" fill="#111"/>
<path d="M1547 901.2L1575 914" stroke="#fff" stroke-width="0.9" stroke-dasharray="1 3.6" fill="none"/>
<circle cx="1848.00" cy="879.00" r="26.20" fill="none" stroke="#0a0a0a" stroke-width="3.05"/>
<polygon points="1836.80,873.20 1853.00,875.00 1845.60,970.00 1844.00,974.60 1829.20,962.00" fill="#111"/>
<path d="M1840.5 875L1833.5 964M1844.5 875L1837.5 967M1848.5 875.6L1841.5 970" stroke="#999" stroke-width="0.7" fill="none"/>
<ellipse cx="1852.00" cy="879.00" rx="2.20" ry="3.00" fill="#111"/>
<ellipse cx="1850.50" cy="930.00" rx="2.40" ry="4.00" fill="#111"/>
<path d="M351 284.4C351.8 288 353.6 290 354.8 292.4C355.2 290.8 355.8 289.6 356.6 288.8C358 293 361.2 297 361.2 302.6C361.2 308.2 357 311.6 351.4 311.6C345.8 311.6 341.2 308.2 341.2 302.6C341.2 298 343.8 296 345.3 293.4C345.9 292 346.4 290.6 346.9 289.4C347.9 291 348.6 292 349.4 293.2C350 290 350.5 287 351 284.4Z" fill="#111" />
<path d="M346.5 300.5Q348 296.5 350.5 294.5M349.5 304Q352 299 355.5 296.5M352.5 307.5Q355.5 303 357.5 299" stroke="#fff" stroke-width="0.9" fill="none"/>
<text x="388.80" y="33.80" text-anchor="middle" font-size="25">902</text>
<text x="388.80" y="71.80" text-anchor="middle" font-size="25">776</text>
<text x="388.80" y="109.20" text-anchor="middle" font-size="25">684</text>
<text transform="translate(33.70 589.30) rotate(-90)" text-anchor="middle" font-size="25">1430</text>
<text transform="translate(72.00 680.50) rotate(-90)" text-anchor="middle" font-size="25">586</text>
<text transform="translate(72.50 936.00) rotate(-90)" text-anchor="middle" font-size="25">271</text>
<text transform="translate(109.50 680.50) rotate(-90)" text-anchor="middle" font-size="25">503</text>
<text x="391.30" y="1047.00" text-anchor="middle" font-size="25">481</text>
<text x="430.60" y="1081.30" text-anchor="middle" font-size="25">615</text>
<text y="1009.5" text-anchor="middle" font-size="25"><tspan x="378.2">Ø</tspan><tspan x="415.6">123</tspan></text>
<text x="1013.50" y="33.00" text-anchor="middle" font-size="25">600</text>
<text x="1054.50" y="72.00" text-anchor="middle" font-size="25">472</text>
<text x="1036.50" y="109.50" text-anchor="middle" font-size="25">381</text>
<text x="1236.60" y="448.30" text-anchor="middle" font-size="25">42</text>
<text x="1187.50" y="910.00" text-anchor="middle" font-size="25">31</text>
<text transform="translate(819.80 991.40) rotate(-90)" text-anchor="middle" font-size="25">155</text>
<text transform="translate(856.00 1005.00) rotate(-90)" text-anchor="middle" font-size="25">96</text>
<text x="1018.30" y="1050.00" text-anchor="middle" font-size="25">311</text>
<text x="1603.40" y="107.50" text-anchor="middle" font-size="25">618</text>
<text transform="translate(1922.80 326.70) rotate(-90)" text-anchor="middle" font-size="25">314</text>
<text x="1575.00" y="614.30" text-anchor="middle" font-size="25">760</text>
<text x="1708.40" y="655.00" text-anchor="middle" font-size="25">350</text>
<text x="1370.80" y="655.00" text-anchor="middle" font-size="25">42</text>
<text transform="translate(1894.30 790.60) rotate(-90)" text-anchor="middle" font-size="25">184</text>
<text transform="translate(1931.80 894.00) rotate(-90)" text-anchor="middle" font-size="25">483</text>
<text transform="translate(1894.30 988.80) rotate(-90)" text-anchor="middle" font-size="25">42</text>
<text y="950.3" text-anchor="middle" font-size="25"><tspan x="1560.6">Ø</tspan><tspan x="1597.4">200</tspan></text>
<text x="331.8" y="334.6" font-size="56.6" font-weight="bold" text-anchor="start" textLength="149.2" lengthAdjust="spacingAndGlyphs" style="fill:none;stroke:#111;stroke-width:1.9;stroke-linejoin:miter">HITZE</text>
</svg>
</body></html>
